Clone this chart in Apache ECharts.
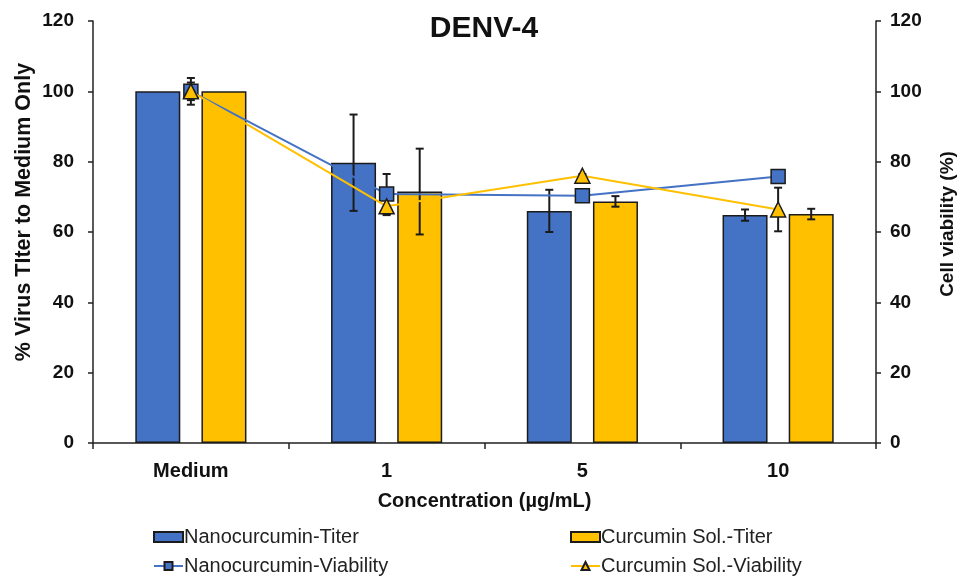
<!DOCTYPE html>
<html>
<head>
<meta charset="utf-8">
<script src="https://cdn.jsdelivr.net/npm/echarts@6/dist/echarts.min.js"></script>
<style>
  html, body { margin: 0; padding: 0; background: #fff; }
  #chart { width: 958px; height: 581px; }
</style>
</head>
<body>
<div id="chart"></div>
<script>
// Concentrations tested
const categories = ['Medium', '1', '5', '10'];

// Virus titer relative to medium only (%), with SD
const nanoTiter = [100, 79.7, 66.0, 64.8];
const nanoTiterErr = [0, 13.7, 6.0, 1.6];
const solTiter = [100, 71.5, 68.7, 65.1];
const solTiterErr = [0, 12.2, 1.5, 1.5];

// Cell viability (%), with SD
const nanoViab = [100, 70.8, 70.3, 75.8];
const nanoViabErr = [3.8, 5.7, 1.0, 1.0];
const solViab = [100, 67.3, 76.0, 66.4];
const solViabErr = [2.5, 2.5, 0.5, 6.2];

const yTicks = { min: 0, max: 120, interval: 20 };

const BLUE = '#4472C4';
const GOLD = '#FFC000';
const EDGE = '#1b1b1b';
const FONT = '"Liberation Sans", Arial, sans-serif';

const BAR_W = 45;
const BAR_GAP = 0.47;                      // gap between the two bars, fraction of bar width
const barShift = (BAR_W + BAR_W * BAR_GAP) / 2;

// Error bars drawn as vertical whiskers with caps, shifted to a bar or marker centre
function errorSeries(values, errs, shift, yAxisIndex, z) {
  return {
    type: 'custom',
    yAxisIndex: yAxisIndex,
    z: z,
    silent: true,
    data: values.map((v, i) => [i, v - errs[i], v + errs[i]]),
    renderItem: function (params, api) {
      const lo = api.coord([api.value(0), api.value(1)]);
      const hi = api.coord([api.value(0), api.value(2)]);
      if (Math.abs(lo[1] - hi[1]) < 0.5) return null;
      const x = lo[0] + shift;
      const cap = 4;
      const style = { stroke: EDGE, lineWidth: 2 };
      return {
        type: 'group',
        children: [
          { type: 'line', shape: { x1: x, y1: hi[1], x2: x, y2: lo[1] }, style: style },
          { type: 'line', shape: { x1: x - cap, y1: hi[1], x2: x + cap, y2: hi[1] }, style: style },
          { type: 'line', shape: { x1: x - cap, y1: lo[1], x2: x + cap, y2: lo[1] }, style: style }
        ]
      };
    }
  };
}

const valueAxisBase = {
  type: 'value',
  min: yTicks.min,
  max: yTicks.max,
  interval: yTicks.interval,
  splitLine: { show: false },
  axisLine: { show: true, lineStyle: { color: '#222', width: 1.5 } },
  axisTick: { show: true, length: 5, lineStyle: { color: '#222', width: 1.5 } },
  axisLabel: { color: '#111', fontSize: 19, fontWeight: 'bold', fontFamily: FONT, margin: 14 }
};

// One legend block per entry so the two-by-two layout is explicit
const legendText = { fontSize: 20, color: '#222', fontFamily: FONT, padding: [0, 0, 0, -4] };
function legendBlock(name, left, top, icon) {
  const item = { name: name };
  if (icon) item.icon = icon;
  return {
    left: left, top: top, padding: 0, itemWidth: 29, itemHeight: 10,
    textStyle: legendText, data: [item]
  };
}

const chart = echarts.init(document.getElementById('chart'), null, { renderer: 'canvas' });

chart.setOption({
  animation: false,
  backgroundColor: '#fff',
  title: {
    text: 'DENV-4',
    left: 484,
    top: 14,
    textAlign: 'center',
    padding: 0,
    textStyle: { fontSize: 30, fontWeight: 'bold', color: '#111', fontFamily: FONT }
  },
  graphic: [
    {
      type: 'text', x: 24, y: 212, rotation: Math.PI / 2,
      style: {
        text: '% Virus TIter to Medium Only', align: 'center', verticalAlign: 'middle',
        font: 'bold 21.5px "Liberation Sans", Arial, sans-serif', fill: '#111'
      }
    },
    {
      type: 'text', x: 948, y: 224, rotation: Math.PI / 2,
      style: {
        text: 'Cell viability (%)', align: 'center', verticalAlign: 'middle',
        font: 'bold 19px "Liberation Sans", Arial, sans-serif', fill: '#111'
      }
    }
  ],
  grid: { left: 93, right: 82, top: 21, bottom: 138 },
  legend: [
    legendBlock('Nanocurcumin-Titer', 153, 527, 'rect'),
    legendBlock('Nanocurcumin-Viability', 153, 556),
    legendBlock('Curcumin Sol.-Titer', 570, 527, 'rect'),
    legendBlock('Curcumin Sol.-Viability', 570, 556)
  ],
  xAxis: {
    type: 'category',
    data: categories,
    name: 'Concentration (µg/mL)',
    nameLocation: 'middle',
    nameGap: 48,
    nameTextStyle: { fontSize: 20, fontWeight: 'bold', color: '#111', fontFamily: FONT },
    axisLine: { lineStyle: { color: '#222', width: 1.5 } },
    axisTick: { show: true, length: 6, inside: false, lineStyle: { color: '#222', width: 1.5 } },
    axisLabel: { fontSize: 20, fontWeight: 'bold', color: '#111', fontFamily: FONT, margin: 18 }
  },
  yAxis: [
    Object.assign({}, valueAxisBase, {
      position: 'left',
      axisLabel: Object.assign({}, valueAxisBase.axisLabel, { margin: 19 })
    }),
    Object.assign({}, valueAxisBase, { position: 'right' })
  ],
  series: [
    {
      name: 'Nanocurcumin-Titer',
      type: 'bar',
      data: nanoTiter,
      barWidth: BAR_W,
      barGap: (BAR_GAP * 100) + '%',
      itemStyle: { color: BLUE, borderColor: EDGE, borderWidth: 1.5 },
      z: 2
    },
    {
      name: 'Curcumin Sol.-Titer',
      type: 'bar',
      data: solTiter,
      barWidth: BAR_W,
      barGap: (BAR_GAP * 100) + '%',
      itemStyle: { color: GOLD, borderColor: EDGE, borderWidth: 1.5 },
      z: 2
    },
    errorSeries(nanoTiter, nanoTiterErr, -barShift, 0, 3),
    errorSeries(solTiter, solTiterErr, barShift, 0, 3),
    errorSeries(nanoViab, nanoViabErr, 0, 1, 4),
    errorSeries(solViab, solViabErr, 0, 1, 4),
    {
      name: 'Nanocurcumin-Viability',
      type: 'line',
      yAxisIndex: 1,
      data: nanoViab,
      symbol: 'rect',
      symbolSize: 14,
      lineStyle: { color: BLUE, width: 2 },
      itemStyle: { color: BLUE, borderColor: EDGE, borderWidth: 1.5 },
      z: 5
    },
    {
      name: 'Curcumin Sol.-Viability',
      type: 'line',
      yAxisIndex: 1,
      data: solViab,
      symbol: 'triangle',
      symbolSize: 15,
      lineStyle: { color: GOLD, width: 2 },
      itemStyle: { color: GOLD, borderColor: EDGE, borderWidth: 1.5 },
      z: 6
    }
  ]
});
</script>
</body>
</html>
